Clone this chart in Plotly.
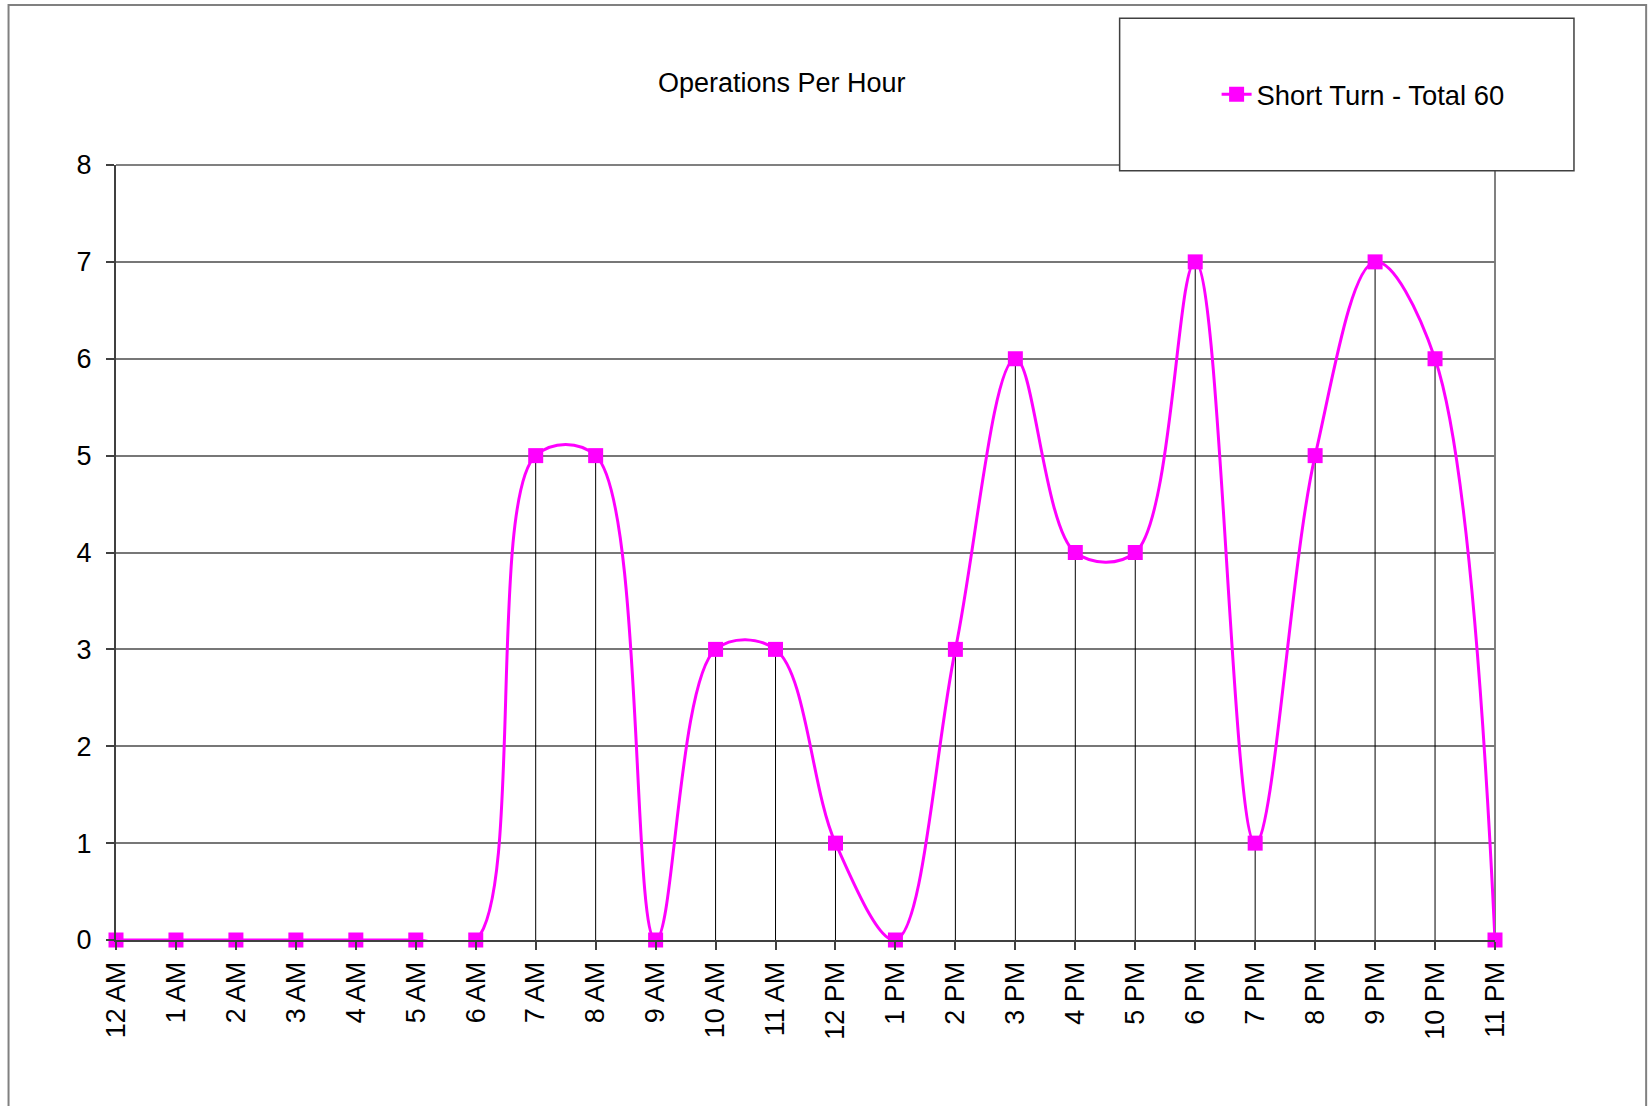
import plotly.graph_objects as go

hours = ["12 AM", "1 AM", "2 AM", "3 AM", "4 AM", "5 AM", "6 AM", "7 AM", "8 AM",
         "9 AM", "10 AM", "11 AM", "12 PM", "1 PM", "2 PM", "3 PM", "4 PM", "5 PM",
         "6 PM", "7 PM", "8 PM", "9 PM", "10 PM", "11 PM"]
short_turn = [0, 0, 0, 0, 0, 0, 0, 5, 5, 0, 3, 3, 1, 0, 3, 6, 4, 4, 7, 1, 5, 7, 6, 0]
y_ticks = [0, 1, 2, 3, 4, 5, 6, 7, 8]
series_name = "Short Turn - Total 60"
title_text = "Operations Per Hour"

W, H = 1648, 1106
L, R, T, B = 116, 1495.5, 164.7, 940.3
pw, ph = R - L, B - T

def px(x):
    return (x - L) / pw

def py(y):
    return (B - y) / ph

FONT = "Arial, Liberation Sans, sans-serif"
MAGENTA = "#FF00FF"
FS = 27

fig = go.Figure()

# drop lines from each point to the x axis
fig.add_trace(go.Scatter(
    x=hours, y=short_turn, mode="markers",
    marker=dict(size=1, opacity=0),
    error_y=dict(type="data", symmetric=False, array=[0] * len(short_turn),
                 arrayminus=short_turn, color="#000000", thickness=1, width=0),
    showlegend=False, hoverinfo="skip", cliponaxis=False,
))

fig.add_trace(go.Scatter(
    x=hours, y=short_turn, mode="lines+markers", name=series_name,
    line=dict(color=MAGENTA, width=3, shape="spline", smoothing=1),
    marker=dict(symbol="square", size=15, color=MAGENTA, line=dict(width=0)),
    cliponaxis=False,
))

shapes = [
    # outer chart border
    dict(type="rect", xref="paper", yref="paper", x0=px(8.5), x1=px(1646.7),
         y0=py(1125), y1=py(4.7), line=dict(color="#808080", width=2), layer="below"),
    # plot area top and right borders
    dict(type="line", xref="paper", yref="paper", x0=0, x1=1, y0=1, y1=1,
         line=dict(color="#808080", width=2), layer="below"),
    dict(type="line", xref="paper", yref="paper", x0=1, x1=1, y0=0, y1=1,
         line=dict(color="#808080", width=2), layer="below"),
    # legend box
    dict(type="rect", xref="paper", yref="paper", x0=px(1120), x1=px(1574.5),
         y0=py(170.5), y1=py(17.9), line=dict(color="#404040", width=1.5),
         fillcolor="white", layer="above"),
]

fig.update_layout(
    width=W, height=H,
    margin=dict(l=L, r=W - R, t=T, b=H - B, pad=0),
    paper_bgcolor="white", plot_bgcolor="white",
    font=dict(family=FONT, size=FS, color="#000000"),
    title=dict(text=title_text, x=781.7 / W, y=1 - 82.7 / H, xanchor="center",
               yanchor="middle", font=dict(family=FONT, size=FS, color="#000000")),
    showlegend=True,
    legend=dict(x=px(1217), y=py(94), xanchor="left", yanchor="middle",
                bgcolor="rgba(0,0,0,0)", borderwidth=0,
                font=dict(family=FONT, size=27.4, color="#000000")),
    shapes=shapes,
    xaxis=dict(
        type="category", categoryorder="array", categoryarray=hours,
        range=[0, len(hours) - 1], showgrid=False, zeroline=False,
        showline=True, linecolor="#404040", linewidth=2,
        ticks="outside", ticklen=8, tickcolor="#404040", tickwidth=1.5,
        tickangle=-90, ticklabelstandoff=1,
        tickfont=dict(family=FONT, size=FS, color="#000000"),
    ),
    yaxis=dict(
        range=[0, 8], tickvals=y_ticks, ticktext=[str(v) for v in y_ticks],
        showgrid=True, gridcolor="#777777", gridwidth=1.5, zeroline=False,
        showline=True, linecolor="#404040", linewidth=2,
        ticks="outside", ticklen=8, tickcolor="#404040", tickwidth=1.5,
        ticklabelstandoff=9,
        tickfont=dict(family=FONT, size=FS, color="#000000"),
    ),
)

fig.write_html("out.html", config={"displayModeBar": False},
               post_script="document.body.style.margin='0';")
